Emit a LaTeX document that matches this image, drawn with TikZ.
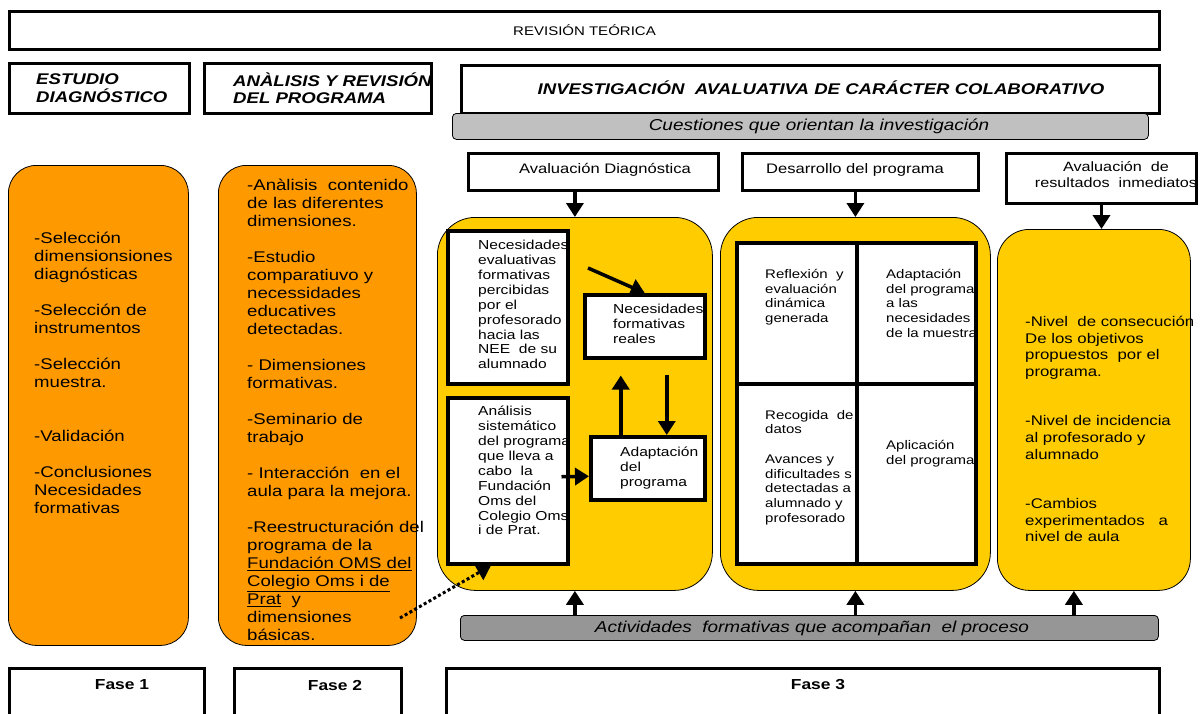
\documentclass[tikz,border=0pt]{standalone}
\usepackage{fontspec}
\setmainfont{Liberation Sans}[FakeStretch=1.2]
\usetikzlibrary{arrows.meta,positioning}
\definecolor{naranja}{RGB}{255,153,0}
\definecolor{amarillo}{RGB}{255,204,0}
\definecolor{grisclaro}{RGB}{192,192,192}
\definecolor{grisoscuro}{RGB}{150,150,150}

\begin{document}
\begin{tikzpicture}[x=1pt, y=-1pt,
			>={Triangle[width=17pt,length=14pt]},   %Pfeilspitzen
			caja/.style={draw, line width=3pt, fill=white, anchor=north west, inner sep=0pt},
			cajita/.style={caja, line width=3.5pt},
			redondo/.style={draw, line width=0.8pt, anchor=north west, inner sep=0pt, rounded corners=#1},
			gris/.style={draw, line width=0.8pt, anchor=north west, inner sep=0pt, rounded corners=4pt},
			texto/.style={anchor=north west, inner sep=0pt, align=left},
			flecha/.style={->, line width=3.5pt}]
			\useasboundingbox (0,0) rectangle (1200,713);
			\clip (0,0) rectangle (1200,713);
			% Cajas superiores
			\node[caja, minimum width=1150pt, minimum height=38pt] (revision) at (8,10)
				{\fontsize{12.5}{15}\selectfont REVISIÓN TEÓRICA};
			\node[caja, minimum width=180pt, minimum height=50pt] (estudio) at (8,62) {};
			\node[caja, minimum width=227pt, minimum height=50pt] (anarev) at (203,62) {};
			\node[caja, minimum width=698pt, minimum height=48pt] (investig) at (460,64) {};
			\node[texto, anchor=west, font=\fontsize{15.5}{17.5}\selectfont\bfseries\itshape] (estudiotxt) at (36,88)
				{ESTUDIO\\DIAGNÓSTICO};
			\node[texto, anchor=west, font=\fontsize{15.5}{17.5}\selectfont\bfseries\itshape] (anarevtxt) at (233,88)
				{ANÀLISIS Y REVISIÓN\\DEL PROGRAMA};
			\node[font=\fontsize{15.5}{17.5}\selectfont\bfseries\itshape, inner sep=0pt] (investigtxt) at (821,88)
				{INVESTIGACIÓN\ \ AVALUATIVA DE CARÁCTER COLABORATIVO};
			\node[gris, fill=grisclaro, minimum width=696pt, minimum height=26pt] (cuestiones) at (452,113) {};
			\node[font=\fontsize{15.8}{18}\selectfont\itshape, inner sep=0pt] (cuestionestxt) at (819,126)
				{Cuestiones que orientan la investigación};
			% Cabeceras
			\node[caja, minimum width=250pt, minimum height=37pt] (cab1) at (467,152) {};
			\node[caja, minimum width=236pt, minimum height=37pt] (cab2) at (741,152) {};
			\node[caja, minimum width=190pt, minimum height=50pt] (cab3) at (1005,152) {};
			\node[font=\fontsize{13.8}{16}\selectfont, inner sep=0pt] (cab1txt) at (605,170) {Avaluación Diagnóstica};
			\node[font=\fontsize{13.8}{16}\selectfont, inner sep=0pt] (cab2txt) at (855,170) {Desarrollo del programa};
			\node[font=\fontsize{13.5}{16}\selectfont, inner sep=0pt, align=center] (cab3txt) at (1116,175)
				{Avaluación\ \ de\\resultados\ \ inmediatos};
			% Fases 1 y 2
			\node[redondo=28pt, fill=naranja, minimum width=180pt, minimum height=480pt] (nar1) at (8,165) {};
			\node[redondo=28pt, fill=naranja, minimum width=198pt, minimum height=480pt] (nar2) at (218,165) {};
			\node[texto, font=\fontsize{15.5}{18}\selectfont] (nar1txt) at (34,232)
				{-Selección\\dimensionsiones\\diagnósticas\\[18pt]
				-Selección de\\instrumentos\\[18pt]
				-Selección\\muestra.\\[36pt]
				-Validación\\[18pt]
				-Conclusiones\\Necesidades\\formativas};
			\node[texto, font=\fontsize{15.5}{18}\selectfont] (nar2txt) at (247,179)
				{-Anàlisis\ \ contenido\\de las diferentes\\dimensiones.\\[18pt]
				-Estudio\\comparatiuvo y\\necessidades\\educatives\\detectadas.\\[18pt]
				- Dimensiones\\formativas.\\[18pt]
				-Seminario de\\trabajo\\[18pt]
				- Interacción\ \ en el\\aula para la mejora.\\[18pt]
				-Reestructuración del\\programa de la\\\underline{Fundación OMS del}\\
				\underline{Colegio Oms i de}\\\underline{Prat}\ \ y\\dimensiones\\básicas.};
			% Fase 3
			\node[redondo=38pt, fill=amarillo, minimum width=275pt, minimum height=373pt] (amA) at (437,217) {};
			\node[redondo=38pt, fill=amarillo, minimum width=270pt, minimum height=373pt] (amB) at (720,217) {};
			\node[redondo=32pt, fill=amarillo, minimum width=193pt, minimum height=361pt] (amC) at (997,229) {};
			% Avaluacion diagnostica
			\node[cajita, minimum width=120pt, minimum height=153pt] (necev) at (446,229) {};
			\node[cajita, minimum width=120pt, minimum height=166pt] (analsis) at (446,396) {};
			\node[cajita, minimum width=120pt, minimum height=63pt] (necreal) at (583,293) {};
			\node[cajita, minimum width=114pt, minimum height=63pt] (adapt) at (589,435) {};
			\node[texto, font=\fontsize{13}{14.9}\selectfont] (necevtxt) at (478,240)
				{Necesidades\\evaluativas\\formativas\\percibidas\\por el\\profesorado\\hacia las\\NEE\ \ de su\\alumnado};
			\node[texto, font=\fontsize{13}{14.9}\selectfont] (analsistxt) at (478,406)
				{Análisis\\sistemático\\del programa\\que lleva a\\cabo\ \ la\\Fundación\\Oms del\\Colegio Oms\\i de Prat.};
			\node[texto, font=\fontsize{13}{14.9}\selectfont] (necrealtxt) at (613,304)
				{Necesidades\\formativas\\reales};
			\node[texto, font=\fontsize{13}{14.9}\selectfont] (adapttxt) at (620,447)
				{Adaptación\\del\\programa};
			\coordinate (diagini) at (588,268);
			\draw[flecha] (diagini) -- (necreal.north);
			\draw[flecha] ([xshift=-27pt]adapt.north) -- ([xshift=-24pt,yshift=-16pt]necreal.south);
			\draw[flecha] ([xshift=22pt,yshift=-15pt]necreal.south) -- ([xshift=19pt]adapt.north);
			\draw[flecha] ([xshift=-8pt,yshift=4pt]analsis.east) -- ([yshift=-8pt]adapt.west);
			% Desarrollo del programa
			\node[caja, line width=3.5pt, minimum width=120pt, minimum height=141pt] (c11) at (735,241) {};
			\node[caja, line width=3.5pt, minimum width=119pt, minimum height=141pt] (c12) at (855,241) {};
			\node[caja, line width=3.5pt, minimum width=120pt, minimum height=180pt] (c21) at (735,382) {};
			\node[caja, line width=3.5pt, minimum width=119pt, minimum height=180pt] (c22) at (855,382) {};
			\node[texto, font=\fontsize{12.5}{14.7}\selectfont] (reflex) at (765,269)
				{Reflexión\ \ y\\evaluación\\dinámica\\generada};
			\node[texto, font=\fontsize{12.5}{14.7}\selectfont] (adaptmu) at (886,269)
				{Adaptación\\del programa\\a las\\necesidades\\de la muestra};
			\node[texto, font=\fontsize{12.5}{14.7}\selectfont] (recog) at (765,410)
				{Recogida\ \ de\\datos\\[14.7pt]Avances y\\dificultades s\\detectadas a\\alumnado y\\profesorado};
			\node[texto, font=\fontsize{12.5}{14.7}\selectfont] (aplic) at (886,440)
				{Aplicación\\del programa};
			% Resultados
			\node[texto, font=\fontsize{14}{16.6}\selectfont] (amCtxt) at (1025,316)
				{-Nivel\ \ de consecución\\De los objetivos\\propuestos\ \ por el\\programa.\\[33pt]
				-Nivel de incidencia\\al profesorado y\\alumnado\\[33pt]
				-Cambios\\experimentados\ \ \ a\\nivel de aula};
			% Actividades y fases
			\node[gris, fill=grisoscuro, minimum width=698pt, minimum height=25pt] (activ) at (460,615) {};
			\node[font=\fontsize{15.8}{18}\selectfont\itshape, inner sep=0pt] (activtxt) at (812,628)
				{Actividades\ \ formativas que acompañan\ \ el proceso};
			\node[caja, minimum width=195pt, minimum height=70pt] (fase1) at (8,667) {};
			\node[caja, minimum width=167pt, minimum height=70pt] (fase2) at (233,667) {};
			\node[caja, minimum width=713pt, minimum height=70pt] (fase3) at (445,667) {};
			\node[font=\fontsize{14.5}{16}\selectfont\bfseries, inner sep=0pt] (fase1txt) at (122,685) {Fase 1};
			\node[font=\fontsize{14.5}{16}\selectfont\bfseries, inner sep=0pt] (fase2txt) at (335,685) {Fase 2};
			\node[font=\fontsize{14.5}{16}\selectfont\bfseries, inner sep=0pt] (fase3txt) at (818,685) {Fase 3};
			% Flechas
			\draw[flecha] (cab1.south -| amA.north) -- (amA.north);
			\draw[flecha] (cab2.south -| amB.north) -- (amB.north);
			\draw[flecha] (cab3.south) -- (cab3.south |- amC.north);
			\draw[flecha] (activ.north -| amA.south) -- (amA.south);
			\draw[flecha] (activ.north -| amB.south) -- (amB.south);
			\draw[flecha] ([xshift=-20pt]amC.south |- activ.north) -- ([xshift=-20pt]amC.south);
			\coordinate (puntos) at (400,618);
			\draw[->, line width=3pt, dash pattern=on 3pt off 2.5pt] (puntos) -- ([xshift=45pt]analsis.south west);
		\end{tikzpicture}
\end{document}
